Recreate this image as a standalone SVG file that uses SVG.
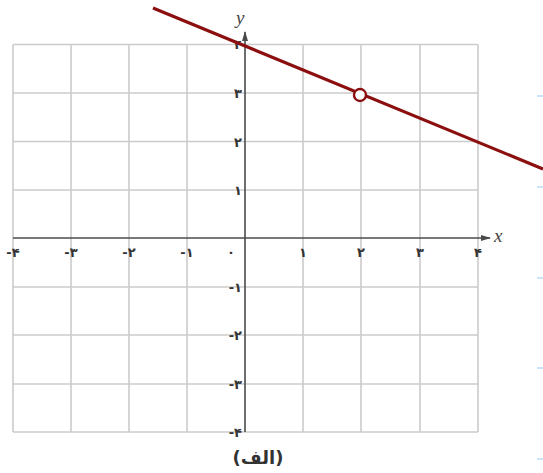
<svg xmlns="http://www.w3.org/2000/svg" width="543" height="473" viewBox="0 0 543 473">
<style>
.grid{stroke:#cbcbcb;stroke-width:1.6;fill:none}
.axis{stroke:#4a4a4a;stroke-width:1.6;fill:none}
.lbl{font-family:"DejaVu Sans",sans-serif;font-size:13px;font-weight:bold;fill:#333}
.var{font-family:"Liberation Serif",serif;font-style:italic;font-size:19px;fill:#444}
.blue{stroke:#9cc8f0;stroke-width:1.2}
</style>
<defs>
<marker id="arr" markerWidth="10" markerHeight="8" refX="9" refY="4" orient="auto" markerUnits="userSpaceOnUse">
<path d="M0,1 L10,4 L0,7 Z" fill="#4a4a4a"/>
</marker>
</defs>
<rect width="543" height="473" fill="#fff"/>
<g id="grid" class="grid">
<path d="M13,44.5V432 M71,44.5V432 M129,44.5V432 M187,44.5V432 M303,44.5V432 M361,44.5V432 M420,44.5V432 M478,44.5V432"/>
<path d="M13,44.5H478 M13,93H478 M13,141.5H478 M13,190H478 M13,287H478 M13,335H478 M13,384H478 M13,432H478"/>
</g>
<g id="axes">
<line class="axis" x1="13" y1="238" x2="490" y2="238" marker-end="url(#arr)"/>
<line class="axis" x1="245" y1="432" x2="245" y2="32" marker-end="url(#arr)"/>
<text class="var" x="494" y="242">x</text>
<text class="var" x="236" y="24">y</text>
</g>
<g id="xlabels" class="lbl" text-anchor="middle">
<text x="13" y="257">-۴</text>
<text x="71" y="257">-۳</text>
<text x="129" y="257">-۲</text>
<text x="187" y="257">-۱</text>
<text x="231" y="257">۰</text>
<text x="303" y="257">۱</text>
<text x="361" y="257">۲</text>
<text x="420" y="257">۳</text>
<text x="478" y="257">۴</text>
</g>
<g id="ylabels" class="lbl" text-anchor="end">
<text x="242" y="49">۴</text>
<text x="242" y="98">۳</text>
<text x="242" y="146.5">۲</text>
<text x="242" y="195">۱</text>
<text x="242" y="292">-۱</text>
<text x="242" y="340">-۲</text>
<text x="242" y="389">-۳</text>
<text x="242" y="437">-۴</text>
</g>
<g id="connectors">
<line x1="153" y1="8" x2="543" y2="169" stroke="#8b0f0f" stroke-width="3.2"/>
<circle cx="360" cy="95" r="6" fill="#fff" stroke="#8b0f0f" stroke-width="2.4"/>
</g>
<g id="marks" class="blue">
<path d="M537,96H543 M537,187H543 M537,278H543 M537,368H543 M537,459H543"/>
</g>
<text id="caption" x="258" y="464" text-anchor="middle" font-family="DejaVu Sans,sans-serif" font-size="18" font-weight="bold" fill="#333">(الف)</text>
</svg>
